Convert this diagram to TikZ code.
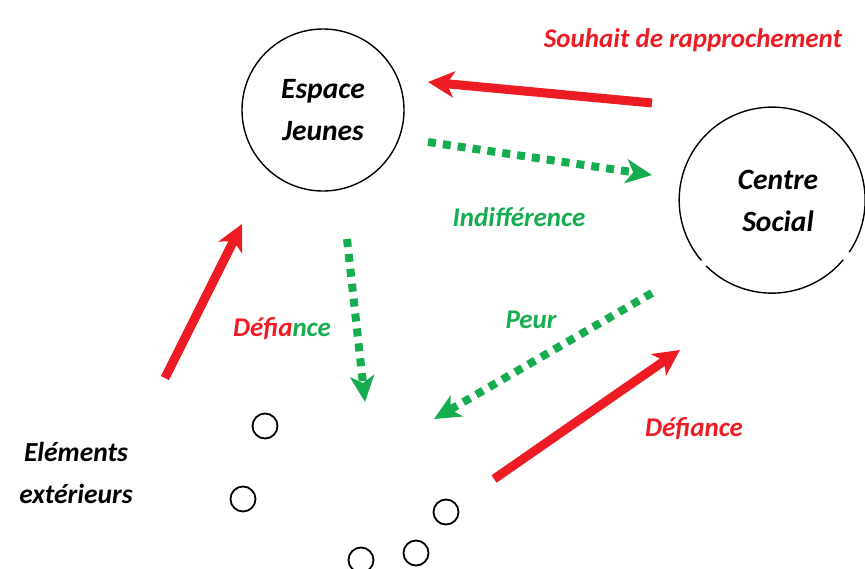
\documentclass[tikz,border=0pt]{standalone}
\usepackage{fontspec}
\setmainfont{Carlito}
\usetikzlibrary{arrows.meta}
\definecolor{rouge}{RGB}{237,28,36}
\definecolor{vert}{RGB}{22,173,80}
\begin{document}
\begin{tikzpicture}[x=1pt, y=-1pt,
bigcircle/.style={circle, draw=black, line width=1.4pt, minimum size=162pt, inner sep=0pt, align=center, font=\fontsize{29.5}{42}\selectfont\bfseries\itshape},
circletext/.style={align=center, font=\fontsize{29.5}{42}\selectfont\bfseries\itshape},
smallcircle/.style={circle, draw=black, line width=1.8pt, minimum size=25pt, inner sep=0pt},
redarrow/.style={draw=rouge, line width=9pt, -{Stealth[length=26pt, width=26pt, inset=7pt]}},
greenarrow/.style={draw=vert, line width=8pt, dash pattern=on 8pt off 7pt, -{Stealth[length=26pt, width=24pt, inset=7pt]}},
redlabel/.style={text=rouge, font=\fontsize{27}{30}\selectfont\bfseries\itshape},
greenlabel/.style={text=vert, font=\fontsize{27}{30}\selectfont\bfseries\itshape},
blacklabel/.style={align=center, font=\fontsize{27.5}{42}\selectfont\bfseries\itshape},
]
\useasboundingbox (0,0) rectangle (865,568);
% les deux structures
\node[bigcircle] (ej) at (323,110) {Espace\\Jeunes};
\node[circle, minimum size=186pt, inner sep=0pt] (cs) at (772,200) {};
\node[circletext] (cslbl) at (778,201) {Centre\\Social};
\draw[line width=1.4pt] (cs.225) arc[start angle=225, end angle=320, radius=93pt];
\draw[line width=1.4pt] (cs.326) arc[start angle=326, end angle=580.5, radius=93pt];
% les jeunes exterieurs
\node[blacklabel] (ext) at (76,473) {Eléments\\extérieurs};
\node[smallcircle] (p1) at (265,426) {};
\node[smallcircle] (p2) at (243,499) {};
\node[smallcircle] (p3) at (446,512) {};
\node[smallcircle] (p4) at (416,553) {};
\node[smallcircle] (p5) at (361,560) {};
% bouts des fleches
\coordinate (s1) at (652,103); \coordinate (t1) at (428,82);
\coordinate (s2) at (428,142); \coordinate (t2) at (652,175);
\coordinate (s3) at (165,378); \coordinate (t3) at (242,224);
\coordinate (s4) at (347,239); \coordinate (t4) at (365,402);
\coordinate (s5) at (652,293); \coordinate (t5) at (434,419);
\coordinate (s6) at (494,479); \coordinate (t6) at (680,350);
\draw[redarrow] (s1) -- (t1);
\draw[greenarrow] (s2) -- (t2);
\draw[redarrow] (s3) -- (t3);
\draw[greenarrow] (s4) -- (t4);
\draw[greenarrow] (s5) -- (t5);
\draw[redarrow] (s6) -- (t6);
% les etiquettes
\node[redlabel] (souhait) at (693,40) {Souhait de rapprochement};
\node[greenlabel] (indiff) at (519,217) {Indifférence};
\node[redlabel] (def1) at (282,329) {Défia\textcolor{vert}{nce}};
\node[greenlabel] (peur) at (531,320) {Peur};
\node[redlabel] (def2) at (694,429) {Défiance};
\end{tikzpicture}
\end{document}
